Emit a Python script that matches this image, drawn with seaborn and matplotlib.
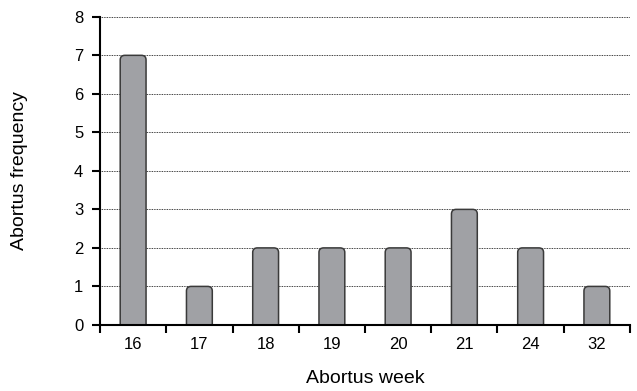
import numpy as np
import pandas as pd
import matplotlib
matplotlib.use('Agg')
import matplotlib.pyplot as plt
import seaborn as sns
from matplotlib.patches import FancyBboxPatch

weeks = ['16', '17', '18', '19', '20', '21', '24', '32']
frequency = [7, 1, 2, 2, 2, 3, 2, 1]

df = pd.DataFrame({'week': weeks, 'freq': frequency})

sns.set_style('white')
plt.rcParams['font.family'] = ['Liberation Sans', 'DejaVu Sans']
plt.rcParams['text.color'] = 'black'
plt.rcParams['axes.labelcolor'] = 'black'
plt.rcParams['xtick.color'] = 'black'
plt.rcParams['ytick.color'] = 'black'

fig = plt.figure(figsize=(6.37, 3.91), dpi=100)
ax = fig.add_axes([0.157, 0.169, 0.832, 0.788])

sns.barplot(data=df, x='week', y='freq', color='#a0a1a5', width=0.39,
            edgecolor='#3a3a3a', linewidth=1.0, saturation=1, ax=ax)

# swap the plain bars for rounded ones (same geometry)
for p in list(ax.patches):
    x, y = p.get_x(), p.get_y()
    w, h = p.get_width(), p.get_height()
    fb = FancyBboxPatch((x, y - 0.3), w, h + 0.3,
                        boxstyle='round,pad=0,rounding_size=0.07',
                        mutation_aspect=1.7,
                        facecolor=p.get_facecolor(), edgecolor='#3a3a3a',
                        linewidth=1.1, zorder=2)
    p.remove()
    ax.add_patch(fb)

ax.set_ylim(0, 8)
ax.set_xlim(-0.5, 7.5)
ax.set_yticks(range(0, 9))
ax.yaxis.grid(True, linestyle=(0, (1, 1)), color='black', linewidth=0.6)
ax.set_axisbelow(True)

ax.set_xticks(np.arange(-0.5, 8, 1), minor=True)
ax.tick_params(axis='x', which='major', length=0, pad=9, labelsize=12)
ax.tick_params(axis='x', which='minor', direction='out', length=6, width=1.5, color='black', bottom=True)
ax.tick_params(axis='y', direction='out', length=6, width=1.5, color='black', left=True, labelsize=12, pad=6)

sns.despine(ax=ax)
for s in ['left', 'bottom']:
    ax.spines[s].set_color('black')
    ax.spines[s].set_linewidth(1.5)

ax.set_xlabel('Abortus week', fontsize=14, labelpad=13)
ax.set_ylabel('Abortus frequency', fontsize=14, labelpad=33)

fig.savefig('out.png', dpi=100)
